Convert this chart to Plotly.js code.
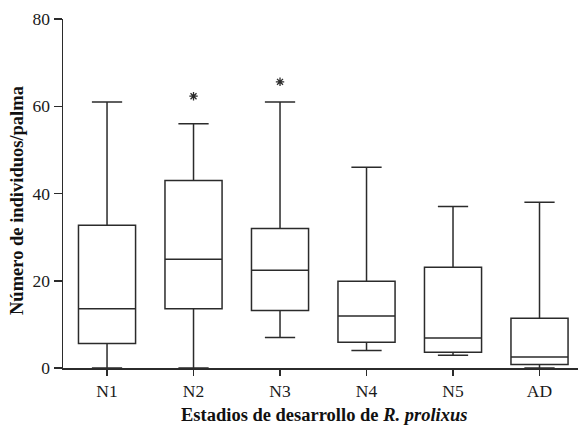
<!DOCTYPE html>
<html>
<head>
<meta charset="utf-8">
<script src="https://cdn.plot.ly/plotly-3.0.1.min.js"></script>
<style>html,body{margin:0;padding:0;background:#fff;}#chart{width:579px;height:428px;}</style>
</head>
<body>
<div id="chart"></div>
<script>
var categories = ["N1", "N2", "N3", "N4", "N5", "AD"];
var lowerWhisker = [0, 0, 7, 4, 2.9, 0];
var q1Values = [5.6, 13.6, 13.2, 5.9, 3.6, 0.8];
var medianValues = [13.6, 24.9, 22.4, 11.9, 6.9, 2.5];
var q3Values = [32.7, 43.0, 32.0, 19.9, 23.1, 11.4];
var upperWhisker = [61, 56, 61, 46, 37, 38];
var outlierCategories = ["N2", "N3"];
var outlierValues = [62.3, 65.6];
var yTicks = [0, 20, 40, 60, 80];

var lineColor = "#2b2b2b";
var serif = "'Liberation Serif', 'Times New Roman', serif";

var traces = [
  {
    type: "box",
    x: categories,
    q1: q1Values,
    median: medianValues,
    q3: q3Values,
    lowerfence: lowerWhisker,
    upperfence: upperWhisker,
    width: 0.66,
    whiskerwidth: 0.53,
    fillcolor: "rgba(0,0,0,0)",
    line: {color: lineColor, width: 1.5},
    boxpoints: false,
    showlegend: false,
    hoverinfo: "skip"
  },
  {
    type: "scatter",
    mode: "markers",
    x: outlierCategories,
    y: outlierValues,
    marker: {symbol: "asterisk-open", size: 7, line: {color: lineColor, width: 1.3}, color: lineColor},
    showlegend: false,
    hoverinfo: "skip"
  }
];

var layout = {
  width: 579,
  height: 428,
  margin: {l: 63, r: 1, t: 19, b: 60},
  paper_bgcolor: "#fff",
  plot_bgcolor: "#fff",
  font: {family: serif, color: "#1a1a1a", size: 17},
  xaxis: {
    type: "category",
    categoryorder: "array",
    categoryarray: categories,
    range: [-0.509, 5.445],
    showline: true,
    linecolor: lineColor,
    linewidth: 1.5,
    ticks: "outside",
    ticklen: 6,
    tickwidth: 1.5,
    tickcolor: lineColor,
    showgrid: false,
    zeroline: false,
    tickfont: {family: serif, size: 17.5, color: "#1a1a1a"},
    fixedrange: true
  },
  yaxis: {
    range: [0, 80],
    tickvals: yTicks,
    ticktext: yTicks.map(String),
    showline: true,
    linecolor: lineColor,
    linewidth: 1.5,
    ticks: "outside",
    ticklen: 8,
    tickwidth: 1.5,
    tickcolor: lineColor,
    showgrid: false,
    zeroline: false,
    tickfont: {family: serif, size: 17.5, color: "#1a1a1a"},
    fixedrange: true
  },
  annotations: [
    {
      xref: "paper", yref: "paper",
      x: -0.0893, y: 0.4785,
      xanchor: "center", yanchor: "middle",
      textangle: -90,
      showarrow: false,
      text: "<b>Número de individuos/palma</b>",
      font: {family: serif, size: 18.5, color: "#111"}
    },
    {
      xref: "paper", yref: "paper",
      x: 0.507, y: -0.1347,
      xanchor: "center", yanchor: "middle",
      showarrow: false,
      text: "<b>Estadios de desarrollo de <i>R. prolixus</i></b>",
      font: {family: serif, size: 18.5, color: "#111"}
    }
  ]
};

Plotly.newPlot("chart", traces, layout, {displayModeBar: false, staticPlot: true});
</script>
</body>
</html>
